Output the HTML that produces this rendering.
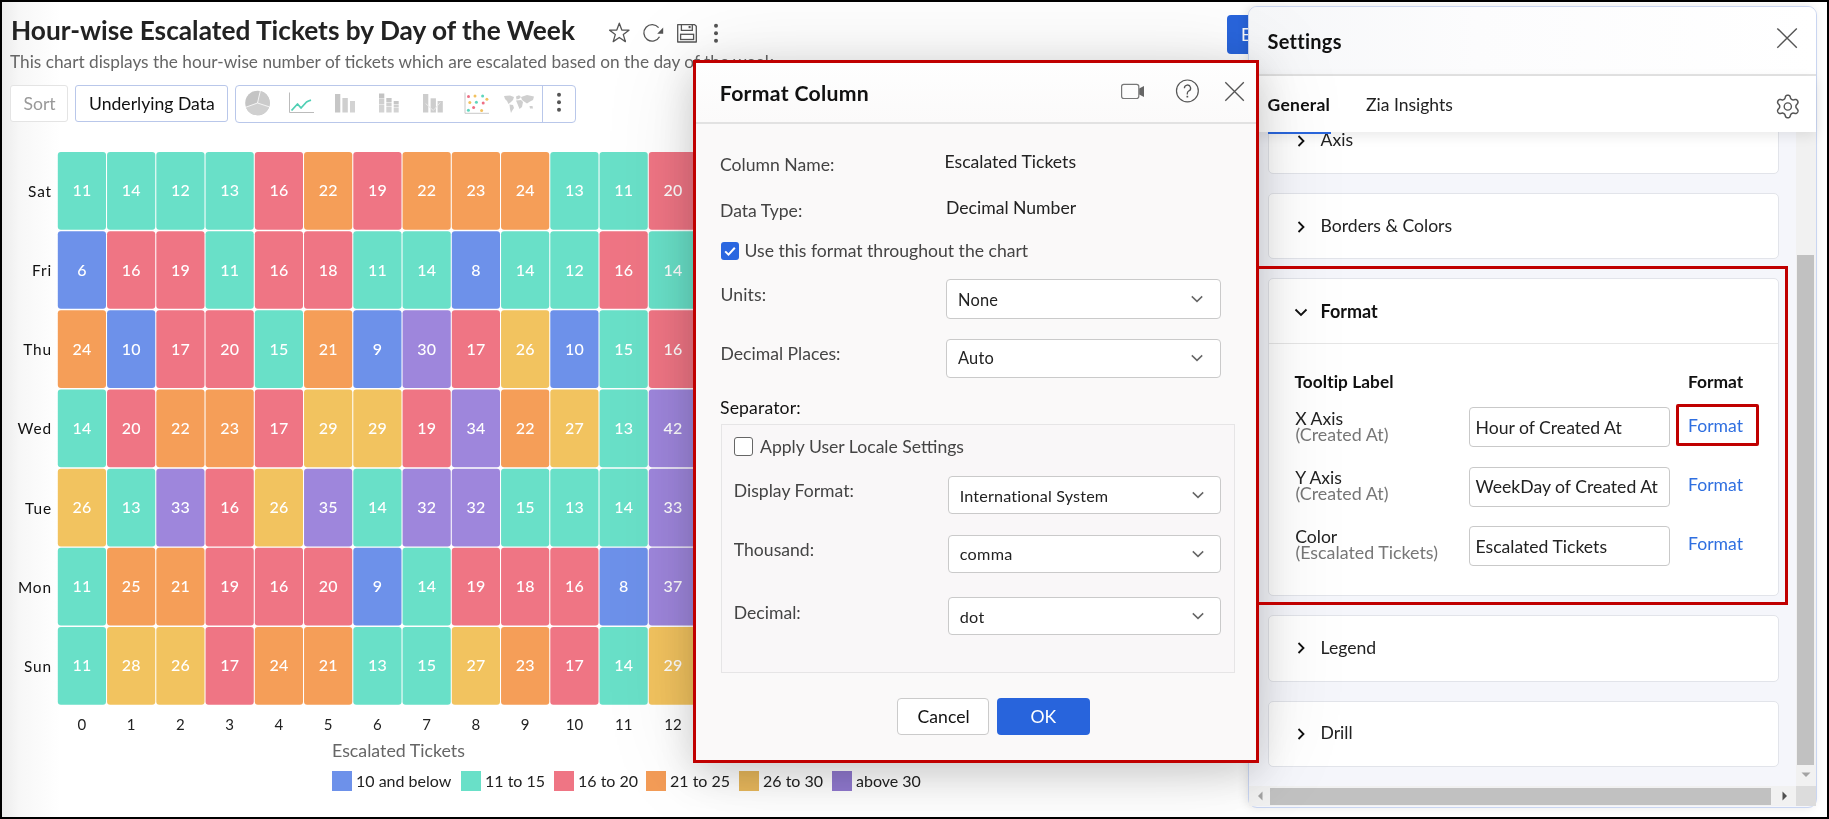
<!DOCTYPE html>
<html><head><meta charset="utf-8"><title>Format Column</title>
<style>
html,body{margin:0;padding:0;}
body{width:1829px;height:819px;overflow:hidden;background:#fff;font-family:"Lato", "Liberation Sans", sans-serif;}
#frame{position:relative;width:1829px;height:819px;overflow:hidden;background:#fff;will-change:transform;}
.a{position:absolute;}
.t{position:absolute;line-height:1;white-space:nowrap;}
svg text{font-family:"Lato", "Liberation Sans", sans-serif;}
.cv{fill:#fff;font-size:16px;text-anchor:middle;font-weight:500;}
.dl{fill:#111;font-size:15.4px;text-anchor:end;letter-spacing:0.9px;}
.xl{fill:#222;font-size:15px;text-anchor:middle;}
#border{position:absolute;left:0;top:0;width:1829px;height:819px;box-sizing:border-box;border:2px solid #000;border-bottom-width:2.5px;z-index:50;pointer-events:none;}
</style></head>
<body><div id="frame">
<div class="a" style="left:2px;top:2px;width:58px;height:815px;background:linear-gradient(90deg,#ececec 0%,#f7f7f7 30%,rgba(255,255,255,0) 100%);"></div>
<div class="t" style="left:11.00px;top:17.02px;font-size:26.25px;font-weight:700;color:#222;">Hour-wise Escalated Tickets by Day of the Week</div>
<div class="t" style="left:10.00px;top:53.10px;font-size:17.25px;font-weight:400;color:#666;">This chart displays the hour-wise number of tickets which are escalated based on the day of the week</div>
<svg class="a" style="left:605px;top:18px" width="120" height="30" viewBox="605 18 120 30">
<path d="M619.3 23.2 L621.8 30.0 L629.0 30.2 L623.3 34.6 L625.4 41.6 L619.3 37.5 L613.2 41.6 L615.3 34.6 L609.6 30.2 L616.8 30.0 Z" fill="none" stroke="#555" stroke-width="1.3" stroke-linejoin="round"/>
<path d="M659.5 36.8 A8.3 8.3 0 1 1 658.6 27.6" fill="none" stroke="#555" stroke-width="1.3"/>
<path d="M663.2 27.6 L663.2 33.8 L657.2 33.8 Z" fill="#555"/>
<path d="M677.7 24.6 H694.6 L696.3 26.3 V42.0 H677.7 Z" fill="none" stroke="#555" stroke-width="1.3" stroke-linejoin="round"/>
<path d="M681.4 24.8 V30.3 H692.3 V24.8" fill="none" stroke="#555" stroke-width="1.3"/>
<rect x="688.6" y="26" width="2" height="2.2" fill="#555"/>
<rect x="680.6" y="34.3" width="13" height="5.2" fill="none" stroke="#555" stroke-width="1.3"/>
<circle cx="716" cy="25.7" r="2" fill="#555"/><circle cx="716" cy="33.3" r="2" fill="#555"/><circle cx="716" cy="40.7" r="2" fill="#555"/>
</svg>
<div class="a" style="left:10px;top:85px;width:58px;height:37px;border:1px solid #e4e4e4;border-radius:3px;box-sizing:border-box;background:#fff;"></div>
<div class="t" style="left:23.50px;top:94.89px;font-size:17.6px;font-weight:400;color:#999;">Sort</div>
<div class="a" style="left:75px;top:85px;width:153px;height:37px;border:1px solid #b9c7ea;border-radius:3px;box-sizing:border-box;background:#fff;"></div>
<div class="t" style="left:89.00px;top:94.89px;font-size:17.6px;font-weight:400;color:#111;">Underlying Data</div>
<div class="a" style="left:235px;top:85px;width:341px;height:38px;border:1px solid #b9c7ea;border-radius:4px;box-sizing:border-box;background:#fff;"></div>
<div class="a" style="left:542px;top:86px;width:1px;height:36px;background:#b9c7ea;"></div>
<svg class="a" style="left:236px;top:86px" width="340" height="36" viewBox="236 86 340 36">
<circle cx="257.5" cy="103" r="12.3" fill="#c4c4c4"/>
<path d="M257.5 103 L245.9 107.2 A12.3 12.3 0 0 0 269.2 106.8 Z" fill="#d0d0d0"/>
<path d="M257.5 103 L260.3 91.0 A12.3 12.3 0 0 1 269.2 106.8 Z" fill="#cbcbcb"/>
<path d="M257.5 103 L260.3 91.0 M257.5 103 L245.9 107.2 M257.5 103 L269.2 106.8" stroke="#fff" stroke-width="0.8"/>
<path d="M289.5 92.5 V112.5 H314" fill="none" stroke="#bbb" stroke-width="1"/>
<path d="M291.5 110.5 L297.5 104 L301 108 L306.5 102 L308.5 101 L311 100.2" fill="none" stroke="#4fcfb4" stroke-width="1.8" stroke-linejoin="round"/>
<rect x="335" y="94" width="5.3" height="18.5" fill="#c6c6c6"/>
<rect x="342.4" y="98" width="5.4" height="14.5" fill="#cfcfcf"/>
<rect x="350" y="101" width="5" height="11.5" fill="#d3d3d3"/>
<rect x="379" y="93.5" width="5.3" height="5" fill="#c3c3c3"/><rect x="379" y="99" width="5.3" height="5.5" fill="#cfcfcf"/><rect x="379" y="105" width="5.3" height="7.5" fill="#d3d3d3"/>
<rect x="386.3" y="98" width="5.3" height="4" fill="#c6c6c6"/><rect x="386.3" y="102.5" width="5.3" height="3.5" fill="#cfcfcf"/><rect x="386.3" y="106.5" width="5.3" height="6" fill="#d3d3d3"/>
<rect x="393.7" y="101" width="5" height="3" fill="#c6c6c6"/><rect x="393.7" y="104.5" width="5" height="3" fill="#cfcfcf"/><rect x="393.7" y="108" width="5" height="4.5" fill="#d3d3d3"/>
<rect x="423" y="94" width="5.3" height="18.5" fill="#cdcdcd"/>
<rect x="430.6" y="98.3" width="5.3" height="14.2" fill="#cdcdcd"/>
<rect x="437.6" y="101" width="5.2" height="11.5" fill="#cdcdcd"/>
<path d="M425.6 103.5 L433.3 110.5 L440.3 102.5" fill="none" stroke="#e9e9e9" stroke-width="1"/>
<path d="M465 92.5 V113.3 H489" fill="none" stroke="#c8c8c8" stroke-width="1"/>
<circle cx="468.5" cy="96.4" r="1.5" fill="#ee7084"/><circle cx="475" cy="95.9" r="1.5" fill="#f2c15e"/><circle cx="482.6" cy="96.1" r="1.5" fill="#5fd6bd"/><circle cx="486.9" cy="99.3" r="1.5" fill="#f2c15e"/>
<circle cx="469.8" cy="102.5" r="1.5" fill="#f2c15e"/><circle cx="476.4" cy="102.2" r="1.5" fill="#5fd6bd"/><circle cx="483.2" cy="103.1" r="1.5" fill="#ee7084"/>
<circle cx="473.6" cy="107.5" r="1.5" fill="#ee7084"/><circle cx="468.4" cy="110.2" r="1.5" fill="#5fd6bd"/><circle cx="481.6" cy="110.4" r="1.5" fill="#f2c15e"/>
<g fill="#cfcfcf">
<path d="M504 96 L510 95.5 L514 97 L513 100 L511 102 L508.5 104 L507 101 L505 99 Z"/>
<path d="M509.5 104.5 L513 105 L514 108 L512 111 L511 113 L510 109 Z"/>
<path d="M516 96.5 L519 95.3 L521 97 L519 99 L516.5 99.5 Z"/>
<path d="M516 100.5 L521 100 L523 102 L522 107 L519.5 109 L517.5 104 Z"/>
<path d="M521 97 L527 95 L534 96.5 L533 100 L530 101.5 L527 103.5 L524 101.5 L522 100 Z"/>
<path d="M529.5 106 L532.5 106 L533 108.5 L530 108.5 Z"/>
</g>
<circle cx="559" cy="94.8" r="2" fill="#555"/><circle cx="559" cy="102.3" r="2" fill="#555"/><circle cx="559" cy="109.8" r="2" fill="#555"/>
</svg>
<svg class="a" style="left:0;top:0" width="700" height="819" viewBox="0 0 700 819">
<rect x="57.80" y="152.00" width="48.2" height="77.7" rx="3" fill="#69e0c8"/>
<text x="81.90" y="196.45" class="cv">11</text>
<rect x="107.05" y="152.00" width="48.2" height="77.7" rx="3" fill="#69e0c8"/>
<text x="131.15" y="196.45" class="cv">14</text>
<rect x="156.30" y="152.00" width="48.2" height="77.7" rx="3" fill="#69e0c8"/>
<text x="180.40" y="196.45" class="cv">12</text>
<rect x="205.55" y="152.00" width="48.2" height="77.7" rx="3" fill="#69e0c8"/>
<text x="229.65" y="196.45" class="cv">13</text>
<rect x="254.80" y="152.00" width="48.2" height="77.7" rx="3" fill="#ef7584"/>
<text x="278.90" y="196.45" class="cv">16</text>
<rect x="304.05" y="152.00" width="48.2" height="77.7" rx="3" fill="#f59e58"/>
<text x="328.15" y="196.45" class="cv">22</text>
<rect x="353.30" y="152.00" width="48.2" height="77.7" rx="3" fill="#ef7584"/>
<text x="377.40" y="196.45" class="cv">19</text>
<rect x="402.55" y="152.00" width="48.2" height="77.7" rx="3" fill="#f59e58"/>
<text x="426.65" y="196.45" class="cv">22</text>
<rect x="451.80" y="152.00" width="48.2" height="77.7" rx="3" fill="#f59e58"/>
<text x="475.90" y="196.45" class="cv">23</text>
<rect x="501.05" y="152.00" width="48.2" height="77.7" rx="3" fill="#f59e58"/>
<text x="525.15" y="196.45" class="cv">24</text>
<rect x="550.30" y="152.00" width="48.2" height="77.7" rx="3" fill="#69e0c8"/>
<text x="574.40" y="196.45" class="cv">13</text>
<rect x="599.55" y="152.00" width="48.2" height="77.7" rx="3" fill="#69e0c8"/>
<text x="623.65" y="196.45" class="cv">11</text>
<rect x="648.80" y="152.00" width="48.2" height="77.7" rx="3" fill="#ef7584"/>
<text x="672.90" y="196.45" class="cv">20</text>
<text x="52.0" y="196.85" class="dl">Sat</text>
<rect x="57.80" y="231.17" width="48.2" height="77.7" rx="3" fill="#6d91ea"/>
<text x="81.90" y="275.62" class="cv">6</text>
<rect x="107.05" y="231.17" width="48.2" height="77.7" rx="3" fill="#ef7584"/>
<text x="131.15" y="275.62" class="cv">16</text>
<rect x="156.30" y="231.17" width="48.2" height="77.7" rx="3" fill="#ef7584"/>
<text x="180.40" y="275.62" class="cv">19</text>
<rect x="205.55" y="231.17" width="48.2" height="77.7" rx="3" fill="#69e0c8"/>
<text x="229.65" y="275.62" class="cv">11</text>
<rect x="254.80" y="231.17" width="48.2" height="77.7" rx="3" fill="#ef7584"/>
<text x="278.90" y="275.62" class="cv">16</text>
<rect x="304.05" y="231.17" width="48.2" height="77.7" rx="3" fill="#ef7584"/>
<text x="328.15" y="275.62" class="cv">18</text>
<rect x="353.30" y="231.17" width="48.2" height="77.7" rx="3" fill="#69e0c8"/>
<text x="377.40" y="275.62" class="cv">11</text>
<rect x="402.55" y="231.17" width="48.2" height="77.7" rx="3" fill="#69e0c8"/>
<text x="426.65" y="275.62" class="cv">14</text>
<rect x="451.80" y="231.17" width="48.2" height="77.7" rx="3" fill="#6d91ea"/>
<text x="475.90" y="275.62" class="cv">8</text>
<rect x="501.05" y="231.17" width="48.2" height="77.7" rx="3" fill="#69e0c8"/>
<text x="525.15" y="275.62" class="cv">14</text>
<rect x="550.30" y="231.17" width="48.2" height="77.7" rx="3" fill="#69e0c8"/>
<text x="574.40" y="275.62" class="cv">12</text>
<rect x="599.55" y="231.17" width="48.2" height="77.7" rx="3" fill="#ef7584"/>
<text x="623.65" y="275.62" class="cv">16</text>
<rect x="648.80" y="231.17" width="48.2" height="77.7" rx="3" fill="#69e0c8"/>
<text x="672.90" y="275.62" class="cv">14</text>
<text x="52.0" y="276.02" class="dl">Fri</text>
<rect x="57.80" y="310.34" width="48.2" height="77.7" rx="3" fill="#f59e58"/>
<text x="81.90" y="354.79" class="cv">24</text>
<rect x="107.05" y="310.34" width="48.2" height="77.7" rx="3" fill="#6d91ea"/>
<text x="131.15" y="354.79" class="cv">10</text>
<rect x="156.30" y="310.34" width="48.2" height="77.7" rx="3" fill="#ef7584"/>
<text x="180.40" y="354.79" class="cv">17</text>
<rect x="205.55" y="310.34" width="48.2" height="77.7" rx="3" fill="#ef7584"/>
<text x="229.65" y="354.79" class="cv">20</text>
<rect x="254.80" y="310.34" width="48.2" height="77.7" rx="3" fill="#69e0c8"/>
<text x="278.90" y="354.79" class="cv">15</text>
<rect x="304.05" y="310.34" width="48.2" height="77.7" rx="3" fill="#f59e58"/>
<text x="328.15" y="354.79" class="cv">21</text>
<rect x="353.30" y="310.34" width="48.2" height="77.7" rx="3" fill="#6d91ea"/>
<text x="377.40" y="354.79" class="cv">9</text>
<rect x="402.55" y="310.34" width="48.2" height="77.7" rx="3" fill="#9e86dc"/>
<text x="426.65" y="354.79" class="cv">30</text>
<rect x="451.80" y="310.34" width="48.2" height="77.7" rx="3" fill="#ef7584"/>
<text x="475.90" y="354.79" class="cv">17</text>
<rect x="501.05" y="310.34" width="48.2" height="77.7" rx="3" fill="#f2c35f"/>
<text x="525.15" y="354.79" class="cv">26</text>
<rect x="550.30" y="310.34" width="48.2" height="77.7" rx="3" fill="#6d91ea"/>
<text x="574.40" y="354.79" class="cv">10</text>
<rect x="599.55" y="310.34" width="48.2" height="77.7" rx="3" fill="#69e0c8"/>
<text x="623.65" y="354.79" class="cv">15</text>
<rect x="648.80" y="310.34" width="48.2" height="77.7" rx="3" fill="#ef7584"/>
<text x="672.90" y="354.79" class="cv">16</text>
<text x="52.0" y="355.19" class="dl">Thu</text>
<rect x="57.80" y="389.51" width="48.2" height="77.7" rx="3" fill="#69e0c8"/>
<text x="81.90" y="433.96" class="cv">14</text>
<rect x="107.05" y="389.51" width="48.2" height="77.7" rx="3" fill="#ef7584"/>
<text x="131.15" y="433.96" class="cv">20</text>
<rect x="156.30" y="389.51" width="48.2" height="77.7" rx="3" fill="#f59e58"/>
<text x="180.40" y="433.96" class="cv">22</text>
<rect x="205.55" y="389.51" width="48.2" height="77.7" rx="3" fill="#f59e58"/>
<text x="229.65" y="433.96" class="cv">23</text>
<rect x="254.80" y="389.51" width="48.2" height="77.7" rx="3" fill="#ef7584"/>
<text x="278.90" y="433.96" class="cv">17</text>
<rect x="304.05" y="389.51" width="48.2" height="77.7" rx="3" fill="#f2c35f"/>
<text x="328.15" y="433.96" class="cv">29</text>
<rect x="353.30" y="389.51" width="48.2" height="77.7" rx="3" fill="#f2c35f"/>
<text x="377.40" y="433.96" class="cv">29</text>
<rect x="402.55" y="389.51" width="48.2" height="77.7" rx="3" fill="#ef7584"/>
<text x="426.65" y="433.96" class="cv">19</text>
<rect x="451.80" y="389.51" width="48.2" height="77.7" rx="3" fill="#9e86dc"/>
<text x="475.90" y="433.96" class="cv">34</text>
<rect x="501.05" y="389.51" width="48.2" height="77.7" rx="3" fill="#f59e58"/>
<text x="525.15" y="433.96" class="cv">22</text>
<rect x="550.30" y="389.51" width="48.2" height="77.7" rx="3" fill="#f2c35f"/>
<text x="574.40" y="433.96" class="cv">27</text>
<rect x="599.55" y="389.51" width="48.2" height="77.7" rx="3" fill="#69e0c8"/>
<text x="623.65" y="433.96" class="cv">13</text>
<rect x="648.80" y="389.51" width="48.2" height="77.7" rx="3" fill="#9e86dc"/>
<text x="672.90" y="433.96" class="cv">42</text>
<text x="52.0" y="434.36" class="dl">Wed</text>
<rect x="57.80" y="468.68" width="48.2" height="77.7" rx="3" fill="#f2c35f"/>
<text x="81.90" y="513.13" class="cv">26</text>
<rect x="107.05" y="468.68" width="48.2" height="77.7" rx="3" fill="#69e0c8"/>
<text x="131.15" y="513.13" class="cv">13</text>
<rect x="156.30" y="468.68" width="48.2" height="77.7" rx="3" fill="#9e86dc"/>
<text x="180.40" y="513.13" class="cv">33</text>
<rect x="205.55" y="468.68" width="48.2" height="77.7" rx="3" fill="#ef7584"/>
<text x="229.65" y="513.13" class="cv">16</text>
<rect x="254.80" y="468.68" width="48.2" height="77.7" rx="3" fill="#f2c35f"/>
<text x="278.90" y="513.13" class="cv">26</text>
<rect x="304.05" y="468.68" width="48.2" height="77.7" rx="3" fill="#9e86dc"/>
<text x="328.15" y="513.13" class="cv">35</text>
<rect x="353.30" y="468.68" width="48.2" height="77.7" rx="3" fill="#69e0c8"/>
<text x="377.40" y="513.13" class="cv">14</text>
<rect x="402.55" y="468.68" width="48.2" height="77.7" rx="3" fill="#9e86dc"/>
<text x="426.65" y="513.13" class="cv">32</text>
<rect x="451.80" y="468.68" width="48.2" height="77.7" rx="3" fill="#9e86dc"/>
<text x="475.90" y="513.13" class="cv">32</text>
<rect x="501.05" y="468.68" width="48.2" height="77.7" rx="3" fill="#69e0c8"/>
<text x="525.15" y="513.13" class="cv">15</text>
<rect x="550.30" y="468.68" width="48.2" height="77.7" rx="3" fill="#69e0c8"/>
<text x="574.40" y="513.13" class="cv">13</text>
<rect x="599.55" y="468.68" width="48.2" height="77.7" rx="3" fill="#69e0c8"/>
<text x="623.65" y="513.13" class="cv">14</text>
<rect x="648.80" y="468.68" width="48.2" height="77.7" rx="3" fill="#9e86dc"/>
<text x="672.90" y="513.13" class="cv">33</text>
<text x="52.0" y="513.53" class="dl">Tue</text>
<rect x="57.80" y="547.85" width="48.2" height="77.7" rx="3" fill="#69e0c8"/>
<text x="81.90" y="592.30" class="cv">11</text>
<rect x="107.05" y="547.85" width="48.2" height="77.7" rx="3" fill="#f59e58"/>
<text x="131.15" y="592.30" class="cv">25</text>
<rect x="156.30" y="547.85" width="48.2" height="77.7" rx="3" fill="#f59e58"/>
<text x="180.40" y="592.30" class="cv">21</text>
<rect x="205.55" y="547.85" width="48.2" height="77.7" rx="3" fill="#ef7584"/>
<text x="229.65" y="592.30" class="cv">19</text>
<rect x="254.80" y="547.85" width="48.2" height="77.7" rx="3" fill="#ef7584"/>
<text x="278.90" y="592.30" class="cv">16</text>
<rect x="304.05" y="547.85" width="48.2" height="77.7" rx="3" fill="#ef7584"/>
<text x="328.15" y="592.30" class="cv">20</text>
<rect x="353.30" y="547.85" width="48.2" height="77.7" rx="3" fill="#6d91ea"/>
<text x="377.40" y="592.30" class="cv">9</text>
<rect x="402.55" y="547.85" width="48.2" height="77.7" rx="3" fill="#69e0c8"/>
<text x="426.65" y="592.30" class="cv">14</text>
<rect x="451.80" y="547.85" width="48.2" height="77.7" rx="3" fill="#ef7584"/>
<text x="475.90" y="592.30" class="cv">19</text>
<rect x="501.05" y="547.85" width="48.2" height="77.7" rx="3" fill="#ef7584"/>
<text x="525.15" y="592.30" class="cv">18</text>
<rect x="550.30" y="547.85" width="48.2" height="77.7" rx="3" fill="#ef7584"/>
<text x="574.40" y="592.30" class="cv">16</text>
<rect x="599.55" y="547.85" width="48.2" height="77.7" rx="3" fill="#6d91ea"/>
<text x="623.65" y="592.30" class="cv">8</text>
<rect x="648.80" y="547.85" width="48.2" height="77.7" rx="3" fill="#9e86dc"/>
<text x="672.90" y="592.30" class="cv">37</text>
<text x="52.0" y="592.70" class="dl">Mon</text>
<rect x="57.80" y="627.02" width="48.2" height="77.7" rx="3" fill="#69e0c8"/>
<text x="81.90" y="671.47" class="cv">11</text>
<rect x="107.05" y="627.02" width="48.2" height="77.7" rx="3" fill="#f2c35f"/>
<text x="131.15" y="671.47" class="cv">28</text>
<rect x="156.30" y="627.02" width="48.2" height="77.7" rx="3" fill="#f2c35f"/>
<text x="180.40" y="671.47" class="cv">26</text>
<rect x="205.55" y="627.02" width="48.2" height="77.7" rx="3" fill="#ef7584"/>
<text x="229.65" y="671.47" class="cv">17</text>
<rect x="254.80" y="627.02" width="48.2" height="77.7" rx="3" fill="#f59e58"/>
<text x="278.90" y="671.47" class="cv">24</text>
<rect x="304.05" y="627.02" width="48.2" height="77.7" rx="3" fill="#f59e58"/>
<text x="328.15" y="671.47" class="cv">21</text>
<rect x="353.30" y="627.02" width="48.2" height="77.7" rx="3" fill="#69e0c8"/>
<text x="377.40" y="671.47" class="cv">13</text>
<rect x="402.55" y="627.02" width="48.2" height="77.7" rx="3" fill="#69e0c8"/>
<text x="426.65" y="671.47" class="cv">15</text>
<rect x="451.80" y="627.02" width="48.2" height="77.7" rx="3" fill="#f2c35f"/>
<text x="475.90" y="671.47" class="cv">27</text>
<rect x="501.05" y="627.02" width="48.2" height="77.7" rx="3" fill="#f59e58"/>
<text x="525.15" y="671.47" class="cv">23</text>
<rect x="550.30" y="627.02" width="48.2" height="77.7" rx="3" fill="#ef7584"/>
<text x="574.40" y="671.47" class="cv">17</text>
<rect x="599.55" y="627.02" width="48.2" height="77.7" rx="3" fill="#69e0c8"/>
<text x="623.65" y="671.47" class="cv">14</text>
<rect x="648.80" y="627.02" width="48.2" height="77.7" rx="3" fill="#f2c35f"/>
<text x="672.90" y="671.47" class="cv">29</text>
<text x="52.0" y="671.87" class="dl">Sun</text>
<text x="81.90" y="729.7" class="xl">0</text>
<text x="131.15" y="729.7" class="xl">1</text>
<text x="180.40" y="729.7" class="xl">2</text>
<text x="229.65" y="729.7" class="xl">3</text>
<text x="278.90" y="729.7" class="xl">4</text>
<text x="328.15" y="729.7" class="xl">5</text>
<text x="377.40" y="729.7" class="xl">6</text>
<text x="426.65" y="729.7" class="xl">7</text>
<text x="475.90" y="729.7" class="xl">8</text>
<text x="525.15" y="729.7" class="xl">9</text>
<text x="574.40" y="729.7" class="xl">10</text>
<text x="623.65" y="729.7" class="xl">11</text>
<text x="672.90" y="729.7" class="xl">12</text>
</svg>
<div class="t" style="left:332.00px;top:741.51px;font-size:17.8px;font-weight:400;color:#666;">Escalated Tickets</div>
<div class="a" style="left:332px;top:771px;width:20px;height:20px;background:#6d91ea;"></div>
<div class="t" style="left:356.00px;top:772.81px;font-size:16px;font-weight:400;color:#222;">10 and below</div>
<div class="a" style="left:461px;top:771px;width:20px;height:20px;background:#69e0c8;"></div>
<div class="t" style="left:485.00px;top:772.81px;font-size:16px;font-weight:400;color:#222;">11 to 15</div>
<div class="a" style="left:554px;top:771px;width:20px;height:20px;background:#ef7584;"></div>
<div class="t" style="left:578.00px;top:772.81px;font-size:16px;font-weight:400;color:#222;">16 to 20</div>
<div class="a" style="left:646px;top:771px;width:20px;height:20px;background:#f39c57;"></div>
<div class="t" style="left:670.00px;top:772.81px;font-size:16px;font-weight:400;color:#222;">21 to 25</div>
<div class="a" style="left:739px;top:771px;width:20px;height:20px;background:#e8b85c;"></div>
<div class="t" style="left:763.00px;top:772.81px;font-size:16px;font-weight:400;color:#222;">26 to 30</div>
<div class="a" style="left:832px;top:771px;width:20px;height:20px;background:#9079cf;"></div>
<div class="t" style="left:856.00px;top:772.81px;font-size:16px;font-weight:400;color:#222;">above 30</div>
<div class="a" style="left:1227px;top:15px;width:33px;height:39px;background:#2965dc;border-radius:4px;"></div>
<div class="t" style="left:1241.00px;top:26.48px;font-size:17.5px;font-weight:400;color:#fff;">Edit</div>

<div class="a" style="left:0;top:0;width:1829px;height:819px;z-index:5">
<div class="a" style="left:1248px;top:6px;width:569px;height:802px;border:1px solid #c9d5f1;border-radius:9px;box-sizing:border-box;background:#f5f6fb;box-shadow:-2px 0 10px rgba(0,0,0,0.10);overflow:hidden;"></div>
<div class="a" style="left:1249px;top:7px;width:567px;height:67px;background:linear-gradient(90deg,#f6f7f9 0%,#fcfcfd 40%,#ffffff 100%);border-radius:8px 8px 0 0;"></div>
<div class="a" style="left:1249px;top:74px;width:567px;height:2px;background:#e4e4e4;"></div>
<div class="t" style="left:1267.60px;top:31.26px;font-size:20px;font-weight:700;color:#111;letter-spacing:0.25px;">Settings</div>
<svg class="a" style="left:1770px;top:22px" width="34" height="34" viewBox="1770 22 34 34">
<path d="M1777.3 28.4 L1796.8 47.8 M1796.8 28.4 L1777.3 47.8" stroke="#555" stroke-width="1.4"/>
</svg>
<div class="a" style="left:1249px;top:76px;width:567px;height:56px;background:#fff;box-shadow:0 4px 12px rgba(0,0,0,0.085);z-index:2;"></div>
<div class="t" style="left:1267.60px;top:96.48px;font-size:17.5px;font-weight:700;color:#111;z-index:3;letter-spacing:0.25px;">General</div>
<div class="t" style="left:1366.00px;top:96.48px;font-size:17.5px;font-weight:400;color:#222;z-index:3;">Zia Insights</div>
<div class="a" style="left:1268px;top:132px;width:63px;height:2px;background:#2a66dc;z-index:3;"></div>
<svg class="a" style="left:1772px;top:91px;z-index:3" width="32" height="32" viewBox="1772 91 32 32">
<g transform="translate(1787.8 106.5)">
<path d="M0.00 -11.30 L0.39 -11.28 L0.78 -11.22 L1.17 -11.11 L1.53 -10.92 L1.87 -10.63 L2.17 -10.21 L2.41 -9.67 L2.60 -9.07 L2.77 -8.52 L2.94 -8.09 L3.14 -7.76 L3.35 -7.52 L3.57 -7.33 L3.81 -7.16 L4.05 -7.01 L4.30 -6.88 L4.56 -6.76 L4.84 -6.66 L5.16 -6.60 L5.53 -6.59 L6.00 -6.66 L6.56 -6.79 L7.17 -6.92 L7.76 -6.98 L8.27 -6.94 L8.69 -6.79 L9.03 -6.56 L9.32 -6.29 L9.57 -5.98 L9.79 -5.65 L9.97 -5.30 L10.11 -4.93 L10.20 -4.54 L10.22 -4.13 L10.14 -3.69 L9.93 -3.23 L9.58 -2.75 L9.16 -2.28 L8.77 -1.86 L8.48 -1.49 L8.29 -1.17 L8.19 -0.86 L8.13 -0.57 L8.11 -0.28 L8.10 -0.00 L8.11 0.28 L8.13 0.57 L8.19 0.86 L8.29 1.17 L8.48 1.49 L8.77 1.86 L9.16 2.28 L9.58 2.75 L9.93 3.23 L10.14 3.69 L10.22 4.13 L10.20 4.54 L10.11 4.93 L9.97 5.30 L9.79 5.65 L9.57 5.98 L9.32 6.29 L9.03 6.56 L8.69 6.79 L8.27 6.94 L7.76 6.98 L7.17 6.92 L6.56 6.79 L6.00 6.66 L5.53 6.59 L5.16 6.60 L4.84 6.66 L4.56 6.76 L4.30 6.88 L4.05 7.01 L3.81 7.16 L3.57 7.33 L3.35 7.52 L3.14 7.76 L2.94 8.09 L2.77 8.52 L2.60 9.07 L2.41 9.67 L2.17 10.21 L1.87 10.63 L1.53 10.92 L1.17 11.11 L0.78 11.22 L0.39 11.28 L0.00 11.30 L-0.39 11.28 L-0.78 11.22 L-1.17 11.11 L-1.53 10.92 L-1.87 10.63 L-2.17 10.21 L-2.41 9.67 L-2.60 9.07 L-2.77 8.52 L-2.94 8.09 L-3.14 7.76 L-3.35 7.52 L-3.57 7.33 L-3.81 7.16 L-4.05 7.01 L-4.30 6.88 L-4.56 6.76 L-4.84 6.66 L-5.16 6.60 L-5.53 6.59 L-6.00 6.66 L-6.56 6.79 L-7.17 6.92 L-7.76 6.98 L-8.27 6.94 L-8.69 6.79 L-9.03 6.56 L-9.32 6.29 L-9.57 5.98 L-9.79 5.65 L-9.97 5.30 L-10.11 4.93 L-10.20 4.54 L-10.22 4.13 L-10.14 3.69 L-9.93 3.23 L-9.58 2.75 L-9.16 2.28 L-8.77 1.86 L-8.48 1.49 L-8.29 1.17 L-8.19 0.86 L-8.13 0.57 L-8.11 0.28 L-8.10 0.00 L-8.11 -0.28 L-8.13 -0.57 L-8.19 -0.86 L-8.29 -1.17 L-8.48 -1.49 L-8.77 -1.86 L-9.16 -2.28 L-9.58 -2.75 L-9.93 -3.23 L-10.14 -3.69 L-10.22 -4.13 L-10.20 -4.54 L-10.11 -4.93 L-9.97 -5.30 L-9.79 -5.65 L-9.57 -5.98 L-9.32 -6.29 L-9.03 -6.56 L-8.69 -6.79 L-8.27 -6.94 L-7.76 -6.98 L-7.17 -6.92 L-6.56 -6.79 L-6.00 -6.66 L-5.53 -6.59 L-5.16 -6.60 L-4.84 -6.66 L-4.56 -6.76 L-4.30 -6.88 L-4.05 -7.01 L-3.81 -7.16 L-3.57 -7.33 L-3.35 -7.52 L-3.14 -7.76 L-2.94 -8.09 L-2.77 -8.52 L-2.60 -9.07 L-2.41 -9.67 L-2.17 -10.21 L-1.87 -10.63 L-1.53 -10.92 L-1.17 -11.11 L-0.78 -11.22 L-0.39 -11.28 Z" fill="none" stroke="#555" stroke-width="1.5" stroke-linejoin="round"/>
<circle r="3.6" fill="none" stroke="#555" stroke-width="1.4"/>
</g>
</svg>
<div class="a" style="left:1268px;top:100px;width:511px;height:74px;background:#fff;border:1px solid #e2e4ea;border-radius:5px;box-sizing:border-box;"></div>
<svg class="a" style="left:1295px;top:133.8px" width="12" height="14" viewBox="0 0 12 14"><path d="M3.5 2 L8.5 7 L3.5 12" fill="none" stroke="#111" stroke-width="1.8"/></svg>
<div class="t" style="left:1320.50px;top:131.39px;font-size:17.6px;font-weight:400;color:#222;">Axis</div>
<div class="a" style="left:1268px;top:193px;width:511px;height:66px;background:#fff;border:1px solid #e2e4ea;border-radius:5px;box-sizing:border-box;"></div>
<svg class="a" style="left:1295px;top:219.5px" width="12" height="14" viewBox="0 0 12 14"><path d="M3.5 2 L8.5 7 L3.5 12" fill="none" stroke="#111" stroke-width="1.8"/></svg>
<div class="t" style="left:1320.50px;top:217.09px;font-size:17.6px;font-weight:400;color:#222;">Borders &amp; Colors</div>
<div class="a" style="left:1268px;top:278px;width:511px;height:318px;background:#fff;border:1px solid #e2e4ea;border-radius:5px;box-sizing:border-box;"></div>
<div class="a" style="left:1269px;top:343px;width:509px;height:1px;background:#e6e6e6;"></div>
<svg class="a" style="left:1293.6px;top:305.5px" width="14" height="12" viewBox="0 0 14 12"><path d="M1.5 3.5 L7 9 L12.5 3.5" fill="none" stroke="#111" stroke-width="1.8"/></svg>
<div class="t" style="left:1320.50px;top:302.03px;font-size:18px;font-weight:700;color:#111;">Format</div>
<div class="t" style="left:1294.50px;top:373.34px;font-size:17.2px;font-weight:700;color:#111;letter-spacing:0.1px;">Tooltip Label</div>
<div class="t" style="left:1688.00px;top:373.17px;font-size:17.4px;font-weight:700;color:#111;">Format</div>
<div class="t" style="left:1295.20px;top:409.89px;font-size:17.6px;font-weight:400;color:#222;">X Axis</div>
<div class="t" style="left:1295.40px;top:426.47px;font-size:17.85px;font-weight:400;color:#777;">(Created At)</div>
<div class="a" style="left:1468.5px;top:407.3px;width:201.20000000000005px;height:40.0px;background:#fff;border:1px solid #c9c9c9;border-radius:4px;box-sizing:border-box;"></div>
<div class="t" style="left:1475.50px;top:419.29px;font-size:17.6px;font-weight:400;color:#222;">Hour of Created At</div>
<div class="t" style="left:1688.00px;top:416.69px;font-size:17.6px;font-weight:400;color:#2f6fe0;">Format</div>
<div class="t" style="left:1295.20px;top:468.89px;font-size:17.6px;font-weight:400;color:#222;">Y Axis</div>
<div class="t" style="left:1295.40px;top:485.47px;font-size:17.85px;font-weight:400;color:#777;">(Created At)</div>
<div class="a" style="left:1468.5px;top:466.5px;width:201.20000000000005px;height:40.0px;background:#fff;border:1px solid #c9c9c9;border-radius:4px;box-sizing:border-box;"></div>
<div class="t" style="left:1475.50px;top:478.49px;font-size:17.6px;font-weight:400;color:#222;">WeekDay of Created At</div>
<div class="t" style="left:1688.00px;top:475.89px;font-size:17.6px;font-weight:400;color:#2f6fe0;">Format</div>
<div class="t" style="left:1295.20px;top:527.79px;font-size:17.6px;font-weight:400;color:#222;">Color</div>
<div class="t" style="left:1295.40px;top:544.37px;font-size:17.85px;font-weight:400;color:#777;">(Escalated Tickets)</div>
<div class="a" style="left:1468.5px;top:525.6px;width:201.20000000000005px;height:40.0px;background:#fff;border:1px solid #c9c9c9;border-radius:4px;box-sizing:border-box;"></div>
<div class="t" style="left:1475.50px;top:537.59px;font-size:17.6px;font-weight:400;color:#222;">Escalated Tickets</div>
<div class="t" style="left:1688.00px;top:534.99px;font-size:17.6px;font-weight:400;color:#2f6fe0;">Format</div>
<div class="a" style="left:1268px;top:615px;width:511px;height:67px;background:#fff;border:1px solid #e2e4ea;border-radius:5px;box-sizing:border-box;"></div>
<svg class="a" style="left:1295px;top:640.5px" width="12" height="14" viewBox="0 0 12 14"><path d="M3.5 2 L8.5 7 L3.5 12" fill="none" stroke="#111" stroke-width="1.8"/></svg>
<div class="t" style="left:1320.50px;top:638.59px;font-size:17.6px;font-weight:400;color:#222;">Legend</div>
<div class="a" style="left:1268px;top:701px;width:511px;height:66px;background:#fff;border:1px solid #e2e4ea;border-radius:5px;box-sizing:border-box;"></div>
<svg class="a" style="left:1295px;top:727px" width="12" height="14" viewBox="0 0 12 14"><path d="M3.5 2 L8.5 7 L3.5 12" fill="none" stroke="#111" stroke-width="1.8"/></svg>
<div class="t" style="left:1320.50px;top:723.89px;font-size:17.6px;font-weight:400;color:#222;">Drill</div>
<div class="a" style="left:1796px;top:132px;width:20px;height:654px;background:#f1f1f1;"></div>
<div class="a" style="left:1797px;top:255px;width:17px;height:510px;background:#c1c1c1;"></div>
<svg class="a" style="left:1796px;top:766px" width="20" height="20" viewBox="0 0 20 20"><path d="M5.5 6.5 H14.5 L10 11 Z" fill="#a3a3a3"/></svg>
<div class="a" style="left:1249px;top:786px;width:547px;height:20px;background:#f1f1f1;"></div>
<div class="a" style="left:1270px;top:788px;width:501px;height:17px;background:#c1c1c1;"></div>
<svg class="a" style="left:1250px;top:786px" width="20" height="20" viewBox="0 0 20 20"><path d="M12.5 5.5 V14.5 L8 10 Z" fill="#a3a3a3"/></svg>
<svg class="a" style="left:1776px;top:786px" width="20" height="20" viewBox="0 0 20 20"><path d="M6.5 5.5 V14.5 L11 10 Z" fill="#505050"/></svg>
<div class="a" style="left:1796px;top:786px;width:20px;height:20px;background:#dcdcdc;"></div>

</div>
<div class="a" style="left:0;top:0;width:1829px;height:819px;z-index:10">
<div class="a" style="left:693px;top:60px;width:566px;height:703px;border:3px solid #c00000;box-sizing:border-box;background:#faf9f9;box-shadow:0 10px 36px rgba(0,0,0,0.17), 0 0 90px rgba(0,0,0,0.10);"></div>
<div class="a" style="left:696px;top:63px;width:560px;height:59px;background:linear-gradient(180deg,#fefefe,#fbfafa);"></div>
<div class="a" style="left:696px;top:122px;width:560px;height:2px;background:#e2e2e2;"></div>
<div class="t" style="left:719.80px;top:83.20px;font-size:21.2px;font-weight:700;color:#111;letter-spacing:0.3px;">Format Column</div>
<svg class="a" style="left:1115px;top:75px" width="140" height="32" viewBox="1115 75 140 32">
<rect x="1121.6" y="84.3" width="17.2" height="14.2" rx="2.2" fill="none" stroke="#777" stroke-width="1.2"/>
<path d="M1139.2 88.5 L1144 86 V97 L1139.2 94.5 Z" fill="#666"/>
<circle cx="1187.4" cy="90.9" r="10.9" fill="none" stroke="#555" stroke-width="1.2"/>
<path d="M1184.4 88.2 A3.1 3.1 0 1 1 1188.7 91 C1187.7 91.6 1187.3 92.3 1187.3 93.6 V94.4" fill="none" stroke="#555" stroke-width="1.3"/>
<rect x="1186.5" y="95.8" width="1.7" height="1.7" fill="#555"/>
<path d="M1225.3 82.3 L1243.8 100.7 M1243.8 82.3 L1225.3 100.7" stroke="#555" stroke-width="1.3"/>
</svg>
<div class="t" style="left:720.00px;top:156.29px;font-size:17.6px;font-weight:400;color:#444;">Column Name:</div>
<div class="t" style="left:944.50px;top:153.29px;font-size:17.6px;font-weight:400;color:#222;">Escalated Tickets</div>
<div class="t" style="left:720.00px;top:201.69px;font-size:17.6px;font-weight:400;color:#444;">Data Type:</div>
<div class="t" style="left:946.00px;top:198.99px;font-size:17.6px;font-weight:400;color:#222;">Decimal Number</div>
<div class="a" style="left:721px;top:242.3px;width:18px;height:17.69999999999999px;background:#2a67e0;border-radius:3px;"></div>
<svg class="a" style="left:721px;top:242px" width="18" height="18" viewBox="0 0 18 18"><path d="M4.2 9.4 L7.5 12.6 L13.8 5.8" fill="none" stroke="#fff" stroke-width="2"/></svg>
<div class="t" style="left:744.50px;top:242.19px;font-size:17.6px;font-weight:400;color:#444;">Use this format throughout the chart</div>
<div class="t" style="left:720.60px;top:285.79px;font-size:17.6px;font-weight:400;color:#444;letter-spacing:0.1px;">Units:</div>
<div class="a" style="left:946px;top:279.3px;width:275px;height:39.5px;background:#fff;border:1px solid #cacaca;border-radius:4px;box-sizing:border-box;"></div>
<div class="t" style="left:958.00px;top:291.55px;font-size:16.4px;font-weight:400;color:#222;letter-spacing:0.2px;">None</div>
<svg class="a" style="left:1190.0px;top:294.1px" width="14" height="10" viewBox="0 0 14 10"><path d="M1.8 2.4 L7 7.4 L12.2 2.4" fill="none" stroke="#666" stroke-width="1.5"/></svg>
<div class="t" style="left:720.50px;top:345.29px;font-size:17.6px;font-weight:400;color:#444;">Decimal Places:</div>
<div class="a" style="left:946px;top:338.6px;width:275px;height:39.19999999999999px;background:#fff;border:1px solid #cacaca;border-radius:4px;box-sizing:border-box;"></div>
<div class="t" style="left:958.00px;top:350.15px;font-size:16.4px;font-weight:400;color:#222;letter-spacing:0.2px;">Auto</div>
<svg class="a" style="left:1190.0px;top:353.2px" width="14" height="10" viewBox="0 0 14 10"><path d="M1.8 2.4 L7 7.4 L12.2 2.4" fill="none" stroke="#666" stroke-width="1.5"/></svg>
<div class="t" style="left:720.00px;top:399.19px;font-size:17.6px;font-weight:400;color:#111;letter-spacing:0.15px;">Separator:</div>
<div class="a" style="left:721px;top:424.3px;width:514px;height:248.7px;border:1px solid #e6e5e6;box-sizing:border-box;background:#f9f7f8;"></div>
<div class="a" style="left:734px;top:437.2px;width:19px;height:18.80000000000001px;border:1.3px solid #666;border-radius:3px;box-sizing:border-box;background:#fff;"></div>
<div class="t" style="left:760.00px;top:437.69px;font-size:17.6px;font-weight:400;color:#444;">Apply User Locale Settings</div>
<div class="t" style="left:733.80px;top:481.99px;font-size:17.6px;font-weight:400;color:#444;">Display Format:</div>
<div class="a" style="left:947.7px;top:475.6px;width:273.79999999999995px;height:38.69999999999993px;background:#fff;border:1px solid #cacaca;border-radius:4px;box-sizing:border-box;"></div>
<div class="t" style="left:959.70px;top:487.73px;font-size:16.2px;font-weight:400;color:#222;letter-spacing:0.15px;">International System</div>
<svg class="a" style="left:1190.5px;top:489.9px" width="14" height="10" viewBox="0 0 14 10"><path d="M1.8 2.4 L7 7.4 L12.2 2.4" fill="none" stroke="#666" stroke-width="1.5"/></svg>
<div class="t" style="left:733.80px;top:541.19px;font-size:17.6px;font-weight:400;color:#444;">Thousand:</div>
<div class="a" style="left:947.7px;top:534.6px;width:273.79999999999995px;height:38.69999999999993px;background:#fff;border:1px solid #cacaca;border-radius:4px;box-sizing:border-box;"></div>
<div class="t" style="left:959.70px;top:545.53px;font-size:16.2px;font-weight:400;color:#222;letter-spacing:0.3px;">comma</div>
<svg class="a" style="left:1190.5px;top:549.0px" width="14" height="10" viewBox="0 0 14 10"><path d="M1.8 2.4 L7 7.4 L12.2 2.4" fill="none" stroke="#666" stroke-width="1.5"/></svg>
<div class="t" style="left:733.80px;top:603.59px;font-size:17.6px;font-weight:400;color:#444;">Decimal:</div>
<div class="a" style="left:947.7px;top:596.6px;width:273.79999999999995px;height:38.799999999999955px;background:#fff;border:1px solid #cacaca;border-radius:4px;box-sizing:border-box;"></div>
<div class="t" style="left:959.70px;top:608.63px;font-size:16.2px;font-weight:400;color:#222;letter-spacing:0.3px;">dot</div>
<svg class="a" style="left:1190.5px;top:611.0px" width="14" height="10" viewBox="0 0 14 10"><path d="M1.8 2.4 L7 7.4 L12.2 2.4" fill="none" stroke="#666" stroke-width="1.5"/></svg>
<div class="a" style="left:897.4px;top:698.3px;width:92.10000000000002px;height:36.40000000000009px;background:#fff;border:1px solid #cbcbcb;border-radius:4px;box-sizing:border-box;"></div>
<div class="t" style="left:917.60px;top:708.09px;font-size:17.6px;font-weight:400;color:#111;">Cancel</div>
<div class="a" style="left:997px;top:698px;width:93px;height:36.700000000000045px;background:#2864dc;border-radius:4px;"></div>
<div class="t" style="left:1030.50px;top:708.09px;font-size:17.6px;font-weight:400;color:#fff;">OK</div>

</div>
<div class="a" style="left:0;top:0;width:1829px;height:819px;z-index:20">
<div class="a" style="left:1259px;top:266.3px;width:529.3px;height:338.7px;border:3px solid #c00000;border-left:none;box-sizing:border-box;"></div>
<div class="a" style="left:1675.6px;top:403.8px;width:83.60000000000014px;height:42.099999999999966px;border:3px solid #c00000;border-radius:2px;box-sizing:border-box;"></div>

</div>
<div id="border"></div>
</div></body></html>
